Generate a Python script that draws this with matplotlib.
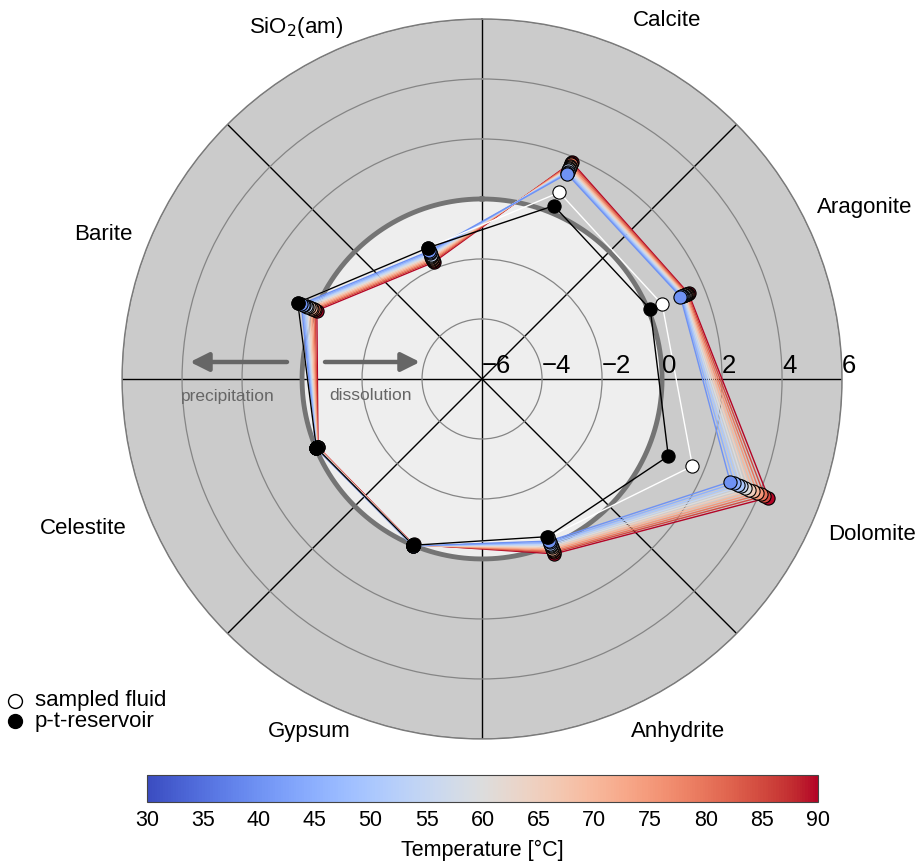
import numpy as np
import matplotlib
matplotlib.use("Agg")
import matplotlib.pyplot as plt
from matplotlib import cm, colors
from matplotlib.lines import Line2D
from matplotlib.patches import FancyArrowPatch
from matplotlib.transforms import ScaledTranslation

plt.rcParams['font.family'] = ['Liberation Sans', 'DejaVu Sans']

# saturation indices per mineral, clockwise from the top
minerals = ["Calcite", "Aragonite", "Dolomite", "Anhydrite",
            "Gypsum", "Celestite", "Barite", "SiO$_2$(am)"]
temps = [40, 45, 50, 55, 60, 65, 70, 75, 80, 85, 90]

si_calcite = [1.40, 1.44, 1.48, 1.53, 1.57, 1.61, 1.65, 1.69, 1.74, 1.78, 1.82]
si_aragonite = [1.16, 1.19, 1.22, 1.25, 1.28, 1.31, 1.33, 1.36, 1.39, 1.42, 1.45]
si_dolomite = [2.95, 3.09, 3.23, 3.36, 3.50, 3.64, 3.78, 3.92, 4.05, 4.19, 4.33]
si_anhydrite = [-0.15, -0.10, -0.06, -0.01, 0.03, 0.08, 0.13, 0.17, 0.22, 0.26, 0.31]
si_gypsum = [0.02, 0.02, 0.01, 0.01, 0.00, 0.00, -0.01, -0.01, -0.02, -0.02, -0.03]
si_celestite = [0.00, -0.01, -0.02, -0.02, -0.03, -0.04, -0.05, -0.06, -0.06, -0.07, -0.08]
si_barite = [0.52, 0.46, 0.41, 0.35, 0.30, 0.24, 0.18, 0.13, 0.07, 0.02, -0.04]
si_sio2 = [-1.39, -1.43, -1.47, -1.51, -1.55, -1.59, -1.63, -1.67, -1.71, -1.75, -1.79]

sampled_fluid = [0.73, 0.50, 1.59, -0.28, 0.00, -0.02, 0.65, -1.27]
pt_reservoir = [0.25, 0.07, 0.72, -0.31, 0.00, -0.02, 0.65, -1.27]

cbar_ticks = [30, 35, 40, 45, 50, 55, 60, 65, 70, 75, 80, 85, 90]

series = np.array([si_calcite, si_aragonite, si_dolomite, si_anhydrite,
                   si_gypsum, si_celestite, si_barite, si_sio2]).T

theta = np.deg2rad(22.5 + 45 * np.arange(len(minerals)))
theta_closed = np.append(theta, theta[0])

fig = plt.figure(figsize=(9.21, 8.66), dpi=100)
ax = fig.add_axes([0.1325, 0.1467, 0.7818, 0.8314], projection='polar')
ax.set_theta_zero_location('N')
ax.set_theta_direction(-1)
ax.set_ylim(-6, 6)
ax.set_facecolor('#cbcbcb')

full = np.linspace(0, 2 * np.pi, 400)
ax.fill_between(full, -6, 0, color='#eeeeee', zorder=0.5)
ax.plot(full, np.zeros_like(full), color='#747474', lw=3.5, zorder=1.6)

ax.set_xticks(np.deg2rad(np.arange(0, 360, 45)))
ax.set_xticklabels([])
ax.set_yticks([-4, -2, 2, 4, 6])
ax.set_yticklabels([])
ax.xaxis.grid(True, color='black', lw=1.0)
ax.yaxis.grid(True, color='#858585', lw=0.9)
ax.spines['polar'].set_color('#7a7a7a')
ax.spines['polar'].set_linewidth(1.0)
ax.tick_params(length=0)

# radial tick labels along the east spoke
off = ScaledTranslation(0, 4.5 / 72, fig.dpi_scale_trans)
for r in range(-6, 7, 2):
    lab = str(r).replace('-', '\u2212')
    ax.text(np.pi / 2, r, lab, fontsize=18.5, ha='left', va='baseline',
            transform=ax.transData + off, zorder=6)

cmap = plt.get_cmap('coolwarm')
norm = colors.Normalize(vmin=30, vmax=90)

# hot to cold so the cold curves end up on top
for i in range(len(temps) - 1, -1, -1):
    vals = np.append(series[i], series[i][0])
    c = cmap(norm(temps[i]))
    ax.plot(theta_closed, vals, color=c, lw=1.0, zorder=3)
    ax.plot(theta, series[i], 'o', ms=9.5, mfc=c, mec='black', mew=0.8,
            zorder=4)

ax.plot(theta_closed, np.append(sampled_fluid, sampled_fluid[0]),
        color='white', lw=1.0, zorder=4.5)
ax.plot(theta, sampled_fluid, 'o', ms=9.5, mfc='white', mec='black',
        mew=0.8, zorder=4.6)
ax.plot(theta_closed, np.append(pt_reservoir, pt_reservoir[0]),
        color='black', lw=1.0, zorder=4.7)
ax.plot(theta, pt_reservoir, 'o', ms=9.5, mfc='black', mec='black',
        mew=0.8, zorder=4.8)

# mineral names around the plot
W, H = 921.0, 866.0
label_pos = [(667, 20), (865, 208), (872, 535), (678, 731),
             (309, 732), (83, 528), (103, 235), (296, 28)]
for name, (px, py) in zip(minerals, label_pos):
    fig.text(px / W, 1 - py / H, name, fontsize=16, ha='center', va='center')

# direction arrows
arrow_kw = dict(arrowstyle='-|>', mutation_scale=28, lw=3.2,
                color='#666666', shrinkA=0, shrinkB=0)
fig.add_artist(FancyArrowPatch((287 / W, 1 - 362 / H), (190 / W, 1 - 362 / H),
                               transform=fig.transFigure, **arrow_kw))
fig.add_artist(FancyArrowPatch((325 / W, 1 - 362 / H), (420 / W, 1 - 362 / H),
                               transform=fig.transFigure, **arrow_kw))
fig.text(228 / W, 1 - 396 / H, 'precipitation', fontsize=12.5,
         color='#666666', ha='center', va='center')
fig.text(370 / W, 1 - 396 / H, 'dissolution', fontsize=12.5,
         color='#666666', ha='center', va='center')

# legend: two markers and a two-line label block
for yy, fc in [(701, 'white'), (721, 'black')]:
    fig.add_artist(Line2D([15 / W], [1 - yy / H], marker='o', ms=10,
                          mfc=fc, mec='black', mew=1.0,
                          transform=fig.transFigure))
fig.text(35 / W, 1 - 711 / H, 'sampled fluid\np-t-reservoir', fontsize=16,
         ha='left', va='center', linespacing=0.95)

# temperature colorbar
cax = fig.add_axes([147 / W, 1 - 802 / H, 671 / W, 27 / H])
sm = cm.ScalarMappable(norm=norm, cmap=cmap)
cb = fig.colorbar(sm, cax=cax, orientation='horizontal')
cb.set_ticks(cbar_ticks)
cb.ax.tick_params(labelsize=15.5, length=0, pad=6)
cb.outline.set_edgecolor('#444444')
cb.set_label('Temperature [°C]', fontsize=15.5, labelpad=6)

fig.savefig('out.png', dpi=100)
